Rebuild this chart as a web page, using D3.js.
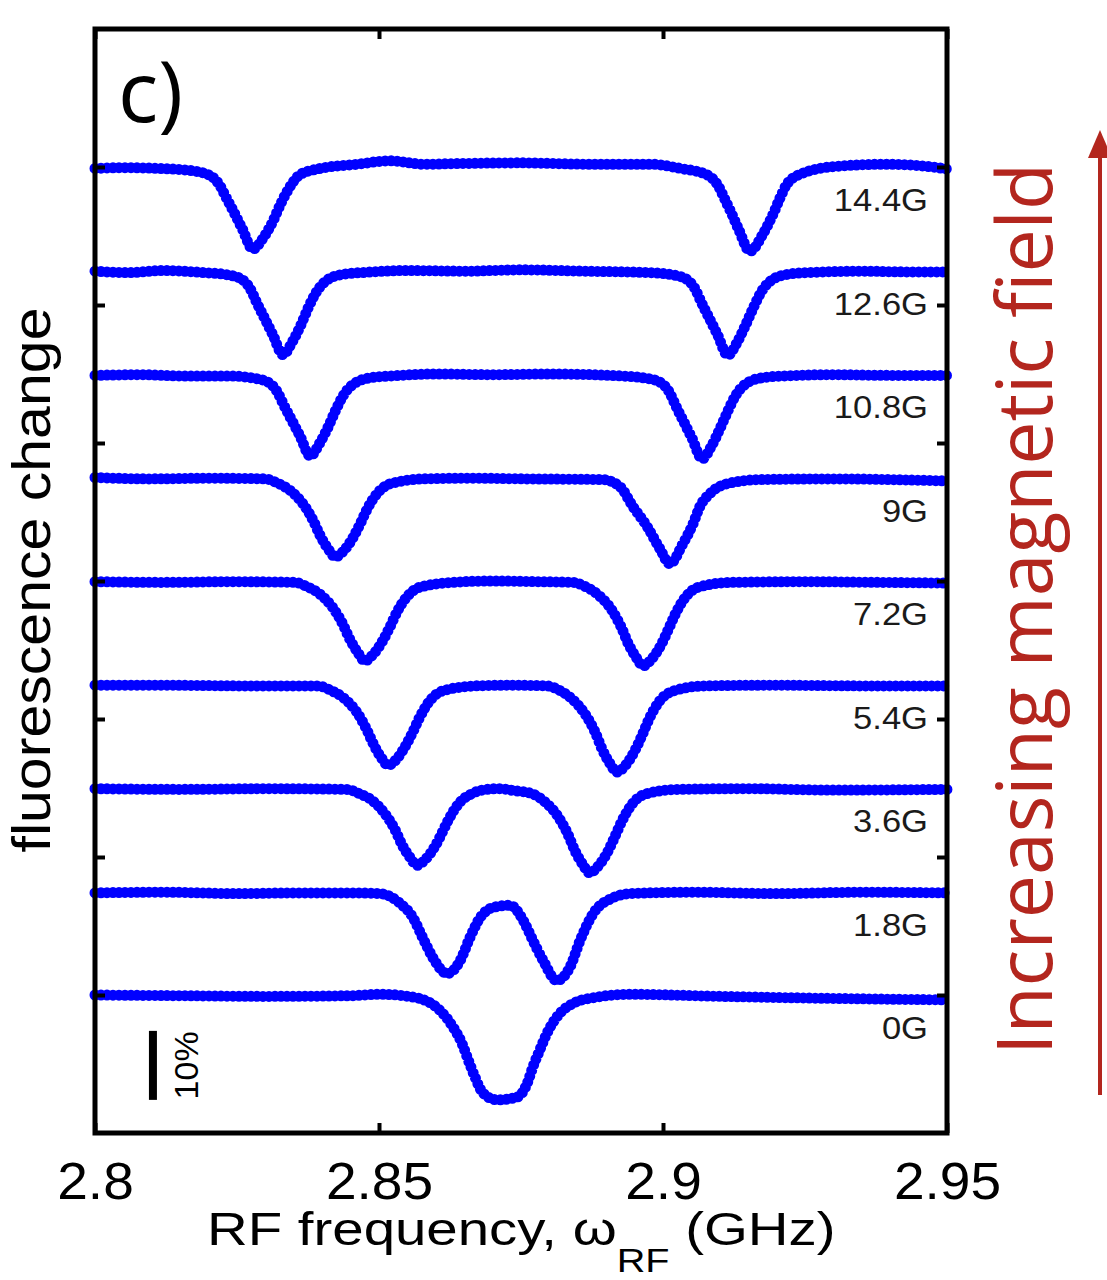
<!DOCTYPE html>
<html>
<head>
<meta charset="utf-8">
<script src="https://cdn.jsdelivr.net/npm/d3@7"></script>
<style>
    body { margin: 0; background: #fff; }
    svg { display: block; }
</style>
</head>
<body>
<div id="container"></div>
<script>

// ---------------- data ----------------
// frequency in GHz, fluorescence change in % relative to each trace's baseline

const fieldLabels = ["0G", "1.8G", "3.6G", "5.4G", "7.2G", "9G", "10.8G", "12.6G", "14.4G"]

// vertical offset of each trace baseline, in % on the stacked axis
const baselineOffsets = [19.7, 34.7, 49.7, 64.7, 79.7, 94.7, 109.7, 124.7, 139.7]

const xTicks = [2.8, 2.85, 2.9, 2.95]
const yTicks = [20, 40, 60, 80, 100, 120, 140]
const scaleBar = { freq: 2.8102, from: 4.8, to: 14.8, label: "10%" }

const trace0G = [
    [2.800, 0.3], [2.815, 0.2], [2.830, 0.1], [2.845, 0.2], [2.8502, 0.4], [2.8560, 0],
    [2.8607, -1.9], [2.8630, -4.3], [2.8646, -6.7], [2.8657, -9.1], [2.8669, -11.6], [2.8683, -13.9],
    [2.8708, -14.9], [2.8743, -14.5], [2.8761, -12.5], [2.8771, -10.1], [2.8783, -7.7], [2.8796, -5.2],
    [2.8813, -2.9], [2.8842, -0.9], [2.8884, 0], [2.8942, 0.4], [2.910, 0.1], [2.930, -0.2], [2.95, -0.4]
]
const trace1_8G = [
    [2.800, 0.1], [2.812, 0.2], [2.825, 0.0], [2.8361, 0.1], [2.8449, 0.1], [2.8502, 0],
    [2.8537, -1.4], [2.8560, -3.5], [2.8577, -6.4], [2.8595, -9.3], [2.8620, -11.6], [2.8643, -9.7],
    [2.8660, -6.4], [2.8678, -3.5], [2.8701, -2.0], [2.8731, -1.7], [2.8754, -3.9], [2.8771, -6.8],
    [2.8789, -9.7], [2.8813, -12.6], [2.8836, -10.7], [2.8854, -6.8], [2.8877, -2.9], [2.8912, -0.6],
    [2.8942, 0], [2.905, 0.2], [2.920, 0.0], [2.935, 0.2], [2.95, 0.1]
]
const trace3_6G = [
    [2.800, 0.2], [2.815, 0.1], [2.830, 0.2], [2.8444, 0.1], [2.8465, -0.5], [2.8488, -1.5],
    [2.8511, -3.5], [2.8528, -5.7], [2.8541, -8.0], [2.8555, -9.8], [2.8567, -10.9], [2.8581, -10.1],
    [2.8599, -8.1], [2.8611, -6.2], [2.8623, -4.2], [2.8641, -1.9], [2.8664, -0.5], [2.8690, 0.1],
    [2.8712, 0.2], [2.8740, -0.1], [2.8769, -0.5], [2.8792, -1.7], [2.8815, -3.8], [2.8832, -6.3],
    [2.8845, -8.8], [2.8859, -10.8], [2.8871, -12.0], [2.8885, -11.1], [2.8903, -8.9], [2.8915, -6.8],
    [2.8927, -4.6], [2.8945, -2.1], [2.8968, -0.6], [2.9026, 0.1], [2.915, 0.2], [2.930, 0.0], [2.95, 0.1]
]
const trace5_4G = [
    [2.800, 0.2], [2.812, 0.2], [2.826, 0.1], [2.8393, 0.1], [2.8414, -0.5], [2.8437, -1.6],
    [2.8460, -3.6], [2.8477, -6.0], [2.8490, -8.3], [2.8504, -10.3], [2.8516, -11.4], [2.8530, -10.6],
    [2.8548, -8.4], [2.8560, -6.5], [2.8572, -4.4], [2.8590, -2.0], [2.8613, -0.6], [2.8671, 0.1],
    [2.8730, 0.2], [2.8796, 0.1], [2.8817, -0.5], [2.8840, -1.8], [2.8863, -4.0], [2.8880, -6.5],
    [2.8893, -9.1], [2.8907, -11.2], [2.8919, -12.4], [2.8933, -11.5], [2.8951, -9.2], [2.8963, -7.1],
    [2.8975, -4.8], [2.8993, -2.2], [2.9016, -0.7], [2.9074, 0.1], [2.920, 0.2], [2.935, 0.1], [2.95, 0.1]
]
const trace7_2G = [
    [2.800, 0.2], [2.812, 0.1], [2.824, 0.2], [2.8352, 0.1], [2.8373, -0.5], [2.8396, -1.6],
    [2.8419, -3.6], [2.8436, -5.9], [2.8449, -8.2], [2.8463, -10.1], [2.8475, -11.3], [2.8489, -10.4],
    [2.8507, -8.3], [2.8519, -6.4], [2.8531, -4.3], [2.8549, -2.0], [2.8572, -0.6], [2.8630, 0.1],
    [2.870, 0.3], [2.878, 0.2], [2.8842, 0.1], [2.8863, -0.5], [2.8886, -1.7], [2.8909, -3.8],
    [2.8926, -6.3], [2.8939, -8.8], [2.8953, -10.8], [2.8965, -12.0], [2.8979, -11.1], [2.8997, -8.9],
    [2.9009, -6.8], [2.9021, -4.6], [2.9039, -2.1], [2.9062, -0.6], [2.9120, 0.1], [2.925, 0.2],
    [2.938, 0.1], [2.95, 0.0]
]
const trace9G = [
    [2.800, 0.3], [2.810, 0.1], [2.820, 0.2], [2.8300, 0.1], [2.8321, -0.5], [2.8344, -1.6],
    [2.8367, -3.6], [2.8384, -5.9], [2.8397, -8.2], [2.8411, -10.1], [2.8423, -11.2], [2.8437, -10.4],
    [2.8455, -8.3], [2.8467, -6.4], [2.8479, -4.3], [2.8497, -2.0], [2.8520, -0.6], [2.8578, 0.1],
    [2.866, 0.2], [2.876, 0.1], [2.8894, 0], [2.8924, -1.0], [2.8947, -3.9], [2.8972, -6.8],
    [2.8995, -10.1], [2.9012, -12.2], [2.9035, -9.3], [2.9053, -6.4], [2.9065, -3.9], [2.9083, -2.0],
    [2.9113, -0.6], [2.9171, 0], [2.930, 0.1], [2.940, 0.0], [2.95, -0.2]
]
const trace10_8G = [
    [2.800, 0.1], [2.808, 0.2], [2.816, 0.0], [2.8239, 0], [2.8279, -0.3], [2.8303, -0.8],
    [2.8321, -2.3], [2.8333, -4.3], [2.8347, -6.5], [2.8361, -8.7], [2.8379, -11.6], [2.8395, -9.8],
    [2.8411, -7.3], [2.8424, -4.9], [2.8438, -2.7], [2.8462, -0.8], [2.8489, -0.2], [2.8519, 0],
    [2.860, 0.3], [2.870, 0.2], [2.880, 0.3], [2.8929, 0], [2.8969, -0.3], [2.8993, -0.8],
    [2.9011, -2.3], [2.9023, -4.4], [2.9037, -6.7], [2.9051, -9.0], [2.9069, -12.0], [2.9085, -10.2],
    [2.9101, -7.5], [2.9114, -5.1], [2.9128, -2.8], [2.9152, -0.8], [2.9179, -0.2], [2.9209, 0],
    [2.930, 0.2], [2.940, 0.1], [2.95, 0.1]
]
const trace12_6G = [
    [2.800, 0.2], [2.806, 0.0], [2.812, 0.3], [2.8191, 0.0], [2.8231, -0.3], [2.8255, -0.8],
    [2.8273, -2.3], [2.8285, -4.4], [2.8299, -6.7], [2.8313, -9.0], [2.8331, -11.9], [2.8347, -10.1],
    [2.8363, -7.5], [2.8376, -5.0], [2.8390, -2.8], [2.8414, -0.8], [2.8441, -0.2], [2.8471, 0],
    [2.855, 0.3], [2.865, 0.2], [2.875, 0.4], [2.886, 0.2], [2.8974, 0], [2.9014, -0.3],
    [2.9038, -0.8], [2.9056, -2.3], [2.9068, -4.4], [2.9082, -6.7], [2.9096, -9.0], [2.9114, -12.0],
    [2.9130, -10.2], [2.9146, -7.5], [2.9159, -5.1], [2.9173, -2.8], [2.9197, -0.8], [2.9224, -0.2],
    [2.9254, 0], [2.935, 0.2], [2.943, 0.1], [2.95, 0.1]
]
const trace14_4G = [
    [2.800, 0.1], [2.805, 0.2], [2.811, 0.1], [2.8167, -0.2], [2.8202, -0.9], [2.8220, -2.4],
    [2.8232, -4.3], [2.8243, -6.0], [2.8259, -8.6], [2.8278, -11.6], [2.8296, -10.0], [2.8313, -7.6],
    [2.8326, -5.2], [2.8340, -3.0], [2.8361, -0.8], [2.8391, 0], [2.8461, 0.7], [2.852, 1.2],
    [2.858, 0.7], [2.864, 0.8], [2.875, 0.9], [2.887, 0.7], [2.898, 0.7], [2.903, 0.1],
    [2.9077, -0.8], [2.9097, -2.4], [2.9109, -4.4], [2.9120, -6.3], [2.9133, -8.7], [2.9153, -11.9],
    [2.9176, -9.4], [2.9194, -6.5], [2.9206, -4.2], [2.9218, -2.2], [2.9246, -0.6], [2.9306, 0.4],
    [2.9394, 0.7], [2.9493, 0.1], [2.95, 0]
]

const traces = [trace0G, trace1_8G, trace3_6G, trace5_4G, trace7_2G, trace9G, trace10_8G, trace12_6G, trace14_4G]

// ---------------- layout ----------------

const width = 1107
const height = 1280
const frame = { left: 95, right: 947, top: 29, bottom: 1133 }
const red = "#b3261e"
const blue = "#0000ff"
const sans = "'Liberation Sans', Arial, Helvetica, sans-serif"

const x = d3.scaleLinear().domain([2.8, 2.95]).range([frame.left, frame.right])
const y = d3.scaleLinear().domain([0, 160]).range([frame.bottom, frame.top])

const svg = d3.select("#container")
    .append("svg")
    .attr("width", width)
    .attr("height", height)

/********************* traces ************************/

const line = d3.line()
    .x(d => x(d[0]))
    .y(d => y(d[1]))
    .curve(d3.curveMonotoneX)

const traceGroup = svg.append("g").attr("class", "traces")

// round dashes of zero length give the beaded "marker" look of the original
traces.forEach((trace, i) => {
    const shifted = trace.map(d => [d[0], d[1] + baselineOffsets[i]])
    traceGroup.append("path")
        .datum(shifted)
        .attr("d", line)
        .attr("fill", "none")
        .attr("stroke", blue)
        .attr("stroke-width", 11)
        .attr("stroke-linecap", "round")
        .attr("stroke-linejoin", "round")
        .attr("stroke-dasharray", "0 6")
})

// field labels, drawn a little wider than the font like the original
traceGroup.selectAll(".field-label")
    .data(fieldLabels)
    .enter()
    .append("text")
    .attr("class", "field-label")
    .attr("transform", (d, i) => `translate(928,${y(baselineOffsets[i] - 6.1)}) scale(1.08,1)`)
    .attr("text-anchor", "end")
    .attr("font-family", sans)
    .attr("font-size", 32)
    .attr("fill", "#1a1a1a")
    .text(d => d)

/********************* frame and axes ************************/

svg.append("rect")
    .attr("x", frame.left)
    .attr("y", frame.top)
    .attr("width", frame.right - frame.left)
    .attr("height", frame.bottom - frame.top)
    .attr("fill", "none")
    .attr("stroke", "#000")
    .attr("stroke-width", 5)

function styleAxis(g) {
    g.select(".domain").remove()
    g.selectAll(".tick line").attr("stroke", "#000").attr("stroke-width", 4)
}

svg.append("g")
    .attr("transform", `translate(0,${frame.bottom})`)
    .call(d3.axisBottom(x)
        .tickValues(xTicks)
        .tickSizeInner(-10)
        .tickSizeOuter(0)
        .tickPadding(30)
        .tickFormat(d => String(+d.toFixed(2))))
    .call(styleAxis)
    .call(g => g.selectAll(".tick text")
        .attr("font-family", sans)
        .attr("font-size", 51)
        .attr("fill", "#000")
        .attr("transform", "scale(1.08,1)"))

svg.append("g")
    .attr("transform", `translate(0,${frame.top})`)
    .call(d3.axisTop(x).tickValues(xTicks).tickSizeInner(-10).tickSizeOuter(0).tickFormat(""))
    .call(styleAxis)

svg.append("g")
    .attr("transform", `translate(${frame.left},0)`)
    .call(d3.axisLeft(y).tickValues(yTicks).tickSizeInner(-10).tickSizeOuter(0).tickFormat(""))
    .call(styleAxis)

svg.append("g")
    .attr("transform", `translate(${frame.right},0)`)
    .call(d3.axisRight(y).tickValues(yTicks).tickSizeInner(-10).tickSizeOuter(0).tickFormat(""))
    .call(styleAxis)

/********************* scale bar and labels ************************/

svg.append("line")
    .attr("x1", x(scaleBar.freq))
    .attr("x2", x(scaleBar.freq))
    .attr("y1", y(scaleBar.from))
    .attr("y2", y(scaleBar.to))
    .attr("stroke", "#000")
    .attr("stroke-width", 8)

svg.append("text")
    .attr("transform", `translate(198,${(y(scaleBar.from) + y(scaleBar.to)) / 2}) rotate(-90)`)
    .attr("text-anchor", "middle")
    .attr("font-family", sans)
    .attr("font-size", 34)
    .text(scaleBar.label)

svg.append("text")
    .attr("x", 118)
    .attr("y", 122)
    .attr("font-family", "'Open Sans', sans-serif")
    .attr("font-size", 84)
    .text("c)")

svg.append("text")
    .attr("transform", "translate(50,580) rotate(-90)")
    .attr("text-anchor", "middle")
    .attr("font-family", sans)
    .attr("font-size", 54)
    .attr("textLength", 545)
    .attr("lengthAdjust", "spacingAndGlyphs")
    .text("fluorescence change")

// x title is stretched horizontally in the original
const xTitle = svg.append("text")
    .attr("transform", "translate(207,1245) scale(1.2,1)")
    .attr("font-family", sans)
    .attr("font-size", 47)
xTitle.append("tspan").text("RF frequency, \u03c9")
xTitle.append("tspan").attr("font-size", 33).attr("dy", 27).text("RF")
xTitle.append("tspan").attr("dy", -27).text(" (GHz)")

/********************* magnetic field arrow ************************/

svg.append("text")
    .attr("transform", "translate(1052,609) rotate(-90)")
    .attr("text-anchor", "middle")
    .attr("font-family", "'Open Sans', sans-serif")
    .attr("font-size", 76)
    .attr("textLength", 892)
    .attr("lengthAdjust", "spacingAndGlyphs")
    .attr("fill", red)
    .text("Increasing magnetic field")

svg.append("line")
    .attr("x1", 1100).attr("x2", 1100)
    .attr("y1", 1095).attr("y2", 150)
    .attr("stroke", red)
    .attr("stroke-width", 4)

svg.append("path")
    .attr("d", "M1100,130 L1088,158 L1112,158 Z")
    .attr("fill", red)

</script>
</body>
</html>
